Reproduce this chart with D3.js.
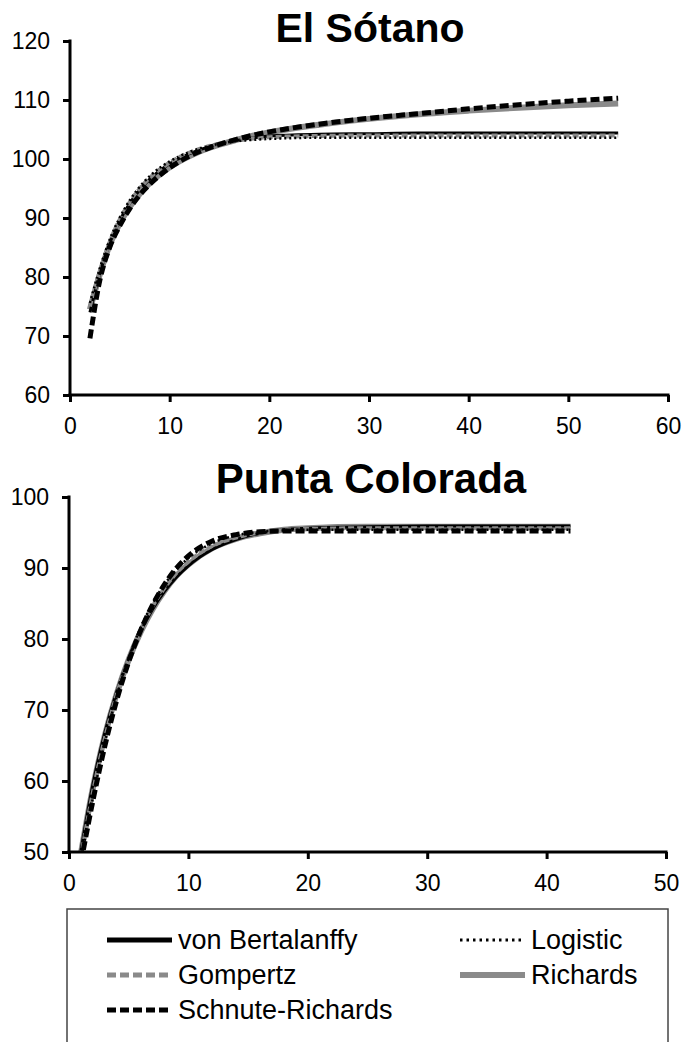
<!DOCTYPE html>
<html>
<head>
<meta charset="utf-8">
<script src="https://cdn.jsdelivr.net/npm/d3@7"></script>
<style>
  html, body { margin: 0; padding: 0; background: #fff; }
  svg { display: block; font-family: "Liberation Sans", Arial, sans-serif; }
</style>
</head>
<body>
<svg id="chart" width="697" height="1042"></svg>
<script>
// ---------- Data ----------
const models = ["von Bertalanffy", "Logistic", "Gompertz", "Richards", "Schnute-Richards"];

// El Sótano
const sotanoAges = [2, 3, 4, 5, 6, 7, 8, 10, 12, 14, 16, 18, 20, 25, 30, 35, 40, 45, 50, 55];
const sotanoVB        = [74.0, 80.6, 85.8, 89.6, 92.5, 94.8, 96.6, 99.2, 100.9, 102.1, 102.9, 103.5, 103.9, 104.2, 104.3, 104.4, 104.4, 104.4, 104.4, 104.4];
const sotanoLogistic  = [75.6, 81.5, 86.4, 90.1, 93.0, 95.3, 97.1, 99.6, 101.2, 102.2, 102.9, 103.2, 103.4, 103.6, 103.6, 103.6, 103.6, 103.6, 103.6, 103.6];
const sotanoGompertz  = [75.0, 81.0, 86.0, 89.8, 92.7, 95.0, 96.8, 99.4, 101.1, 102.2, 102.9, 103.4, 103.7, 103.9, 104.0, 104.0, 104.0, 104.0, 104.0, 104.0];
const sotanoRichards  = [74.5, 80.5, 85.5, 89.1, 91.9, 94.1, 95.9, 98.6, 100.5, 101.9, 102.9, 103.8, 104.5, 105.8, 106.8, 107.6, 108.2, 108.7, 109.1, 109.4];
const sotanoSchnute   = [69.6, 79.5, 85.1, 88.7, 91.6, 93.9, 95.7, 98.5, 100.5, 101.9, 103.0, 103.9, 104.6, 105.9, 106.9, 107.7, 108.5, 109.2, 109.8, 110.3];

// Punta Colorada
const puntaAges = [1, 2, 3, 4, 5, 6, 7, 8, 9, 10, 12, 14, 16, 18, 20, 25, 30, 35, 42];
const puntaVB        = [50.2, 59.5, 66.8, 72.6, 77.3, 81.1, 84.2, 86.7, 88.7, 90.3, 92.6, 94.0, 94.9, 95.4, 95.6, 95.8, 95.9, 95.9, 95.9];
const puntaLogistic  = [48.8, 57.6, 65.4, 72.0, 77.3, 81.6, 85.0, 87.7, 89.8, 91.4, 93.5, 94.6, 95.1, 95.3, 95.4, 95.4, 95.4, 95.4, 95.4];
const puntaGompertz  = [49.3, 58.4, 66.0, 72.2, 77.2, 81.3, 84.6, 87.2, 89.3, 90.9, 93.1, 94.3, 95.0, 95.3, 95.5, 95.6, 95.6, 95.6, 95.6];
const puntaRichards  = [49.8, 59.0, 66.4, 72.3, 77.1, 81.0, 84.2, 86.8, 88.9, 90.5, 92.8, 94.1, 94.9, 95.4, 95.6, 95.8, 95.8, 95.8, 95.8];
const puntaSchnute   = [48.5, 57.2, 64.9, 71.4, 76.8, 81.2, 84.8, 87.7, 90.0, 91.7, 93.8, 94.7, 95.1, 95.2, 95.2, 95.2, 95.2, 95.2, 95.2];

const sotanoXTicks = [0, 10, 20, 30, 40, 50, 60];
const sotanoYTicks = [60, 70, 80, 90, 100, 110, 120];
const puntaXTicks = [0, 10, 20, 30, 40, 50];
const puntaYTicks = [50, 60, 70, 80, 90, 100];

// ---------- Styles ----------
const GREY = "#8a8a8a";
const styles = {
  "Richards":         { stroke: GREY,   width: 6,   dash: null,     cap: "butt" },
  "von Bertalanffy":  { stroke: "#000", width: 3,   dash: null,     cap: "butt" },
  "Gompertz":         { stroke: GREY,   width: 4,   dash: "6,3",    cap: "butt" },
  "Logistic":         { stroke: "#000", width: 2.5, dash: "2,3",    cap: "butt" },
  "Schnute-Richards": { stroke: "#000", width: 5,   dash: "9,4",    cap: "butt" }
};
const drawOrder = ["Richards", "von Bertalanffy", "Gompertz", "Logistic", "Schnute-Richards"];

const svg = d3.select("#chart");
const FONT = "\"Liberation Sans\", Arial, sans-serif";

function panel(cfg) {
  const x = d3.scaleLinear().domain(cfg.xDomain).range(cfg.xRange);
  const y = d3.scaleLinear().domain(cfg.yDomain).range(cfg.yRange);
  const g = svg.append("g");

  const clipId = "clip-" + cfg.id;
  svg.append("defs").append("clipPath").attr("id", clipId)
    .append("rect")
    .attr("x", cfg.xRange[0]).attr("y", cfg.yRange[1] - 10)
    .attr("width", cfg.xRange[1] - cfg.xRange[0])
    .attr("height", cfg.yRange[0] - cfg.yRange[1] + 10);

  // title
  g.append("text")
    .attr("x", cfg.titleX).attr("y", cfg.titleY)
    .attr("text-anchor", "middle")
    .attr("font-size", cfg.titleSize).attr("font-weight", "bold")
    .attr("font-family", FONT)
    .text(cfg.title);

  // lines
  const lineGen = d3.line()
    .x(d => x(d[0])).y(d => y(d[1]))
    .curve(d3.curveMonotoneX);
  const lg = g.append("g").attr("clip-path", `url(#${clipId})`);
  drawOrder.forEach(m => {
    const vals = cfg.series[m];
    const pts = cfg.ages.map((a, i) => [a, vals[i]]);
    const s = styles[m];
    lg.append("path")
      .attr("d", lineGen(pts))
      .attr("fill", "none")
      .attr("stroke", s.stroke)
      .attr("stroke-width", s.width)
      .attr("stroke-dasharray", s.dash)
      .attr("stroke-linecap", s.cap)
      .attr("stroke-linejoin", "round");
  });

  // axes
  const xAxis = d3.axisBottom(x).tickValues(cfg.xTicks).tickSize(7).tickPadding(16).tickSizeOuter(0);
  const yAxis = d3.axisLeft(y).tickValues(cfg.yTicks).tickSize(7).tickPadding(13).tickSizeOuter(0);
  const gx = g.append("g").attr("transform", `translate(0,${cfg.yRange[0]})`).call(xAxis);
  const gy = g.append("g").attr("transform", `translate(${cfg.xRange[0]},0)`).call(yAxis);
  [gx, gy].forEach(a => {
    a.selectAll("path").attr("stroke", "#000").attr("stroke-width", 3);
    a.selectAll("line").attr("stroke", "#000").attr("stroke-width", 3);
    a.selectAll("text").attr("font-size", 23).attr("font-family", FONT).attr("fill", "#000");
  });
  // extend axis lines to cover corner
  gx.select("path").attr("d", `M${cfg.xRange[0] - 1.5},0H${cfg.xRange[1] + 1.5}`);
  gy.select("path").attr("d", `M0,${cfg.yRange[0] + 1.5}V${cfg.yRange[1] - 1.5}`);
}

panel({
  id: "sotano", title: "El Sótano", titleX: 370, titleY: 42, titleSize: 41,
  xDomain: [0, 60], xRange: [70, 668], yDomain: [60, 120], yRange: [395, 41],
  xTicks: sotanoXTicks, yTicks: sotanoYTicks, ages: sotanoAges,
  series: {
    "von Bertalanffy": sotanoVB, "Logistic": sotanoLogistic, "Gompertz": sotanoGompertz,
    "Richards": sotanoRichards, "Schnute-Richards": sotanoSchnute
  }
});

panel({
  id: "punta", title: "Punta Colorada", titleX: 371, titleY: 493, titleSize: 42,
  xDomain: [0, 50], xRange: [69, 666], yDomain: [50, 100], yRange: [852, 497],
  xTicks: puntaXTicks, yTicks: puntaYTicks, ages: puntaAges,
  series: {
    "von Bertalanffy": puntaVB, "Logistic": puntaLogistic, "Gompertz": puntaGompertz,
    "Richards": puntaRichards, "Schnute-Richards": puntaSchnute
  }
});

// ---------- Legend ----------
const legend = svg.append("g");
legend.append("rect")
  .attr("x", 67).attr("y", 909).attr("width", 601).attr("height", 200)
  .attr("fill", "none").attr("stroke", "#444").attr("stroke-width", 1.5);

const legendItems = [
  { name: "von Bertalanffy", col: 0, row: 0, dash: null, width: 5 },
  { name: "Logistic", col: 1, row: 0, dash: "2.5,4", width: 3 },
  { name: "Gompertz", col: 0, row: 1, dash: "9,4", width: 5 },
  { name: "Richards", col: 1, row: 1, dash: null, width: 6 },
  { name: "Schnute-Richards", col: 0, row: 2, dash: "9,4", width: 5 }
];
const colX = [107, 460];
const rowY = [940, 975, 1010];
legendItems.forEach(it => {
  const s = styles[it.name];
  const lx = colX[it.col], ly = rowY[it.row];
  legend.append("line")
    .attr("x1", lx).attr("x2", lx + 65).attr("y1", ly).attr("y2", ly)
    .attr("stroke", s.stroke).attr("stroke-width", it.width)
    .attr("stroke-dasharray", it.dash);
  legend.append("text")
    .attr("x", lx + 71).attr("y", ly).attr("dy", "0.35em")
    .attr("font-size", 27).attr("font-family", FONT)
    .text(it.name);
});
</script>
</body>
</html>
